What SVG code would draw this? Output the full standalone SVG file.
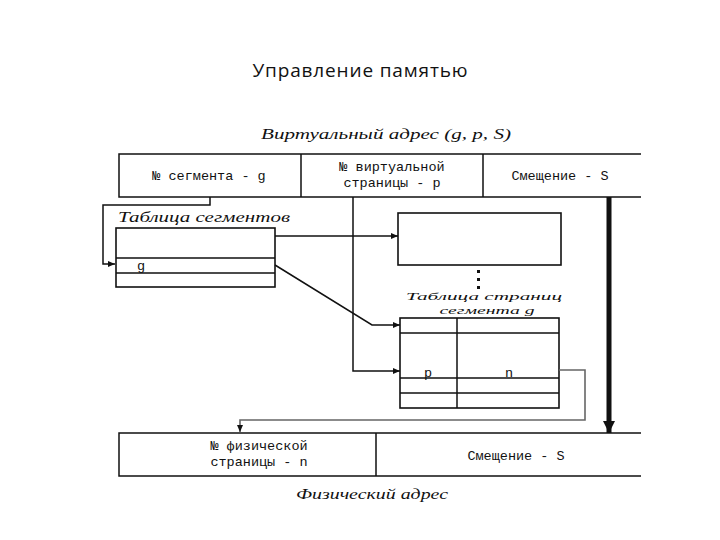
<svg xmlns="http://www.w3.org/2000/svg" width="720" height="540" viewBox="0 0 720 540">
<defs>
<style>
.ln{fill:none;stroke:#111;stroke-width:1.5}
.bx{fill:#fff;stroke:#111;stroke-width:1.6}
.t{font-family:"Liberation Mono",monospace;font-size:13.5px;fill:#111;text-anchor:middle}
.it{font-family:"Liberation Serif",serif;font-style:italic;font-size:14px;fill:#111;text-anchor:middle}
.its{font-family:"Liberation Serif",serif;font-style:italic;font-size:11px;fill:#111;text-anchor:middle}
.title{font-family:"Open Sans","Liberation Sans",sans-serif;font-size:19px;fill:#111;text-anchor:middle}
</style>
<marker id="ar" markerWidth="8" markerHeight="8" refX="7" refY="4" orient="auto" markerUnits="userSpaceOnUse">
<path d="M0,1 L7,4 L0,7 Z" fill="#111"/>
</marker>
<marker id="arb" markerWidth="14" markerHeight="12" refX="12" refY="6" orient="auto" markerUnits="userSpaceOnUse">
<path d="M0,0 L12,6 L0,12 Z" fill="#111"/>
</marker>
</defs>
<rect width="720" height="540" fill="#fff"/>
<text class="title" x="360" y="77" textLength="215">Управление памятью</text>

<g id="virtual-address">
<text class="it" x="386" y="139" textLength="250" lengthAdjust="spacingAndGlyphs">Виртуальный адрес (g, p, S)</text>
<path class="ln" d="M641,154 H119 V197 H641 M301,154 V197 M483,154 V197"/>
<text class="t" x="209" y="180">№ сегмента - g</text>
<text class="t" x="392" y="171">№ виртуальной</text>
<text class="t" x="392" y="187">страницы - p</text>
<text class="t" x="560" y="180">Смещение - S</text>
</g>

<g id="segment-table">
<text class="it" x="204" y="222" textLength="172" lengthAdjust="spacingAndGlyphs">Таблица сегментов</text>
<rect class="bx" x="116" y="228" width="159" height="59"/>
<path class="ln" d="M116,258 H275 M116,273 H275"/>
<text class="t" x="141" y="270">g</text>
</g>

<g id="page-block">
<rect class="bx" x="398" y="213" width="163" height="52"/>
<rect x="477" y="270" width="3" height="3" fill="#111"/>
<rect x="477" y="278" width="3" height="3" fill="#111"/>
<rect x="477" y="286" width="3" height="3" fill="#111"/>
</g>

<g id="page-table">
<text class="its" x="484" y="300" textLength="156" lengthAdjust="spacingAndGlyphs">Таблица страниц</text>
<text class="its" x="487" y="313.5" textLength="95" lengthAdjust="spacingAndGlyphs">сегмента g</text>
<rect class="bx" x="400" y="318" width="159" height="90"/>
<path class="ln" d="M457,318 V408 M400,333 H559 M400,378 H559 M400,393 H559"/>
<text class="t" x="428" y="377">p</text>
<text class="t" x="509" y="377">n</text>
</g>

<g id="physical-address">
<path class="ln" d="M641,433 H119 V476 H641 M376,433 V476"/>
<text class="t" x="259" y="450">№ физической</text>
<text class="t" x="259" y="466">страницы - n</text>
<text class="t" x="516" y="460">Смещение - S</text>
<text class="it" x="372" y="499" textLength="152" lengthAdjust="spacingAndGlyphs">Физический адрес</text>
</g>

<g id="connectors">
<path class="ln" d="M210,197 V205 H103 V264 H115" marker-end="url(#ar)"/>
<path class="ln" d="M275,236 H398" marker-end="url(#ar)"/>
<path class="ln" d="M275,265 L372,325 H400" marker-end="url(#ar)"/>
<path class="ln" d="M353,197 V371 H400" marker-end="url(#ar)"/>
<path d="M559,370 H585 V420 H240 V432" fill="none" stroke="#666" stroke-width="1.6" marker-end="url(#ar)"/>
<path d="M609,197 V433" fill="none" stroke="#111" stroke-width="5" marker-end="url(#arb)"/>
</g>
</svg>
